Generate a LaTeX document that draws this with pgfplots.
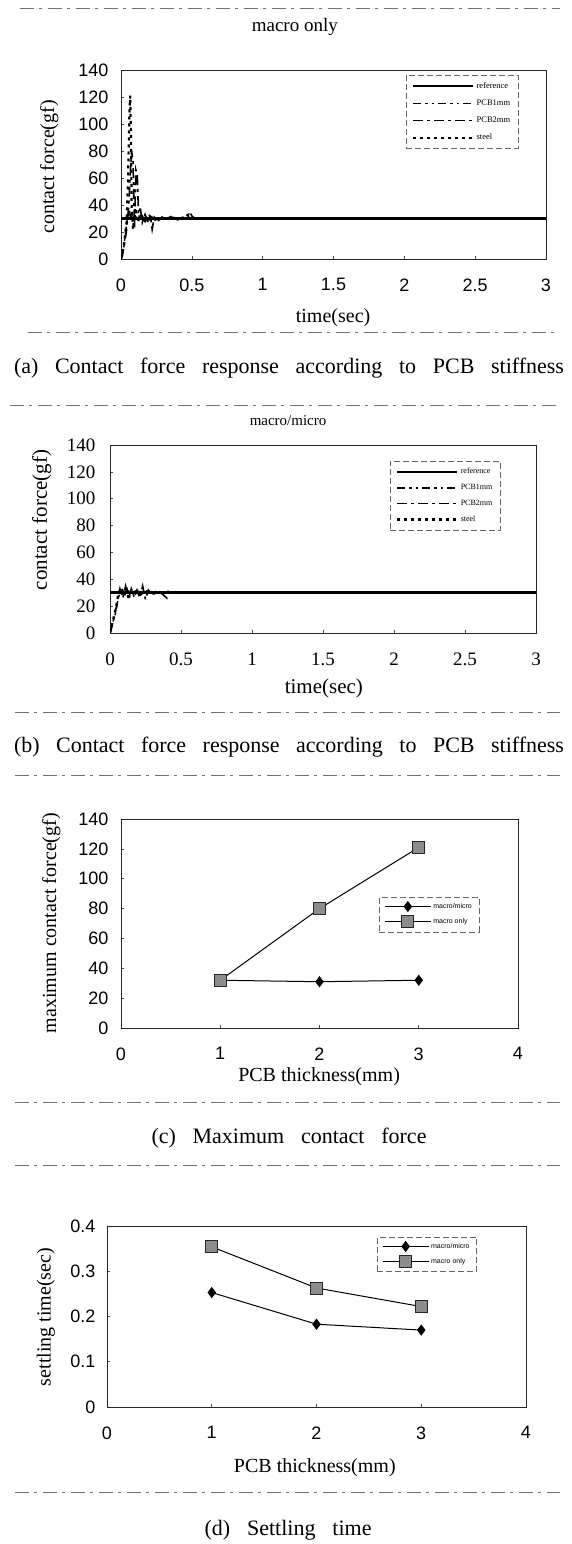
\documentclass[border=0pt]{standalone}
\usepackage{fontspec}
\setmainfont{Liberation Serif}
\newfontfamily\arial{Liberation Sans}
\usepackage{pgfplots}
\pgfplotsset{compat=1.18}
\newcommand\fs[1]{\fontsize{#1}{#1}\selectfont}

\pgfplotsset{
  base/.style={
    scale only axis,
    axis line style={black!85, line width=0.8pt},
    tick style={black!70, line width=0.6pt},
    tick align=inside, major tick length=3pt, tick pos=left,
    /pgf/number format/assume math mode=true,
    xticklabel style={yshift=-16pt},
    legend cell align=left,
  },
  linelegend/.style={
    legend image code/.code={\draw[##1] (0pt,0pt) -- (60pt,0pt);},
  },
  marklegend/.style={
    legend image code/.code={\draw[mark repeat=2,mark phase=2,##1] plot coordinates {(0pt,0pt) (23pt,0pt) (46pt,0pt)};},
  },
  refs/.style={black, solid, line width=2.6pt},
  pcba/.style={black, line width=1.4pt, dash pattern=on 8pt off 4pt on 2.5pt off 4pt on 2.5pt off 4pt},
  pcbb/.style={black, line width=1.6pt, dash pattern=on 10pt off 4pt on 3pt off 4pt},
  steel/.style={black, line width=2.2pt, dash pattern=on 3pt off 4pt},
  mm/.style={black, solid, line width=1pt, mark=diamond*, mark size=4.8pt, mark options={solid, fill=black}},
  mo/.style={black, solid, line width=1pt, mark=square*, mark size=6pt, mark options={solid, fill=black!45, draw=black!85}},
}

\begin{document}
\begin{tikzpicture}
\path[use as bounding box] (0,0) rectangle (571pt,-1544pt);

% decorative separators
\begin{scope}[black!55, line width=0.8pt, dash pattern=on 14pt off 5pt on 3pt off 6pt]
\draw (20pt,-8pt) -- (560pt,-8pt);
\draw (28pt,-332pt) -- (560pt,-332pt);
\draw (10pt,-405pt) -- (560pt,-405pt);
\draw (15pt,-712pt) -- (560pt,-712pt);
\draw (15pt,-775pt) -- (560pt,-775pt);
\draw (15pt,-1102pt) -- (560pt,-1102pt);
\draw (15pt,-1165pt) -- (560pt,-1165pt);
\draw (15pt,-1492pt) -- (560pt,-1492pt);
\end{scope}

% captions
\node at (289pt,-368pt) {\fs{22}\makebox[550pt][s]{(a) Contact force response according to PCB stiffness}};
\node at (289pt,-747pt) {\fs{22}\makebox[550pt][s]{(b) Contact force response according to PCB stiffness}};
\node at (289pt,-1138pt) {\fs{22}\makebox[275pt][s]{(c) Maximum contact force}};
\node at (288pt,-1530pt) {\fs{22}\makebox[167pt][s]{(d) Settling time}};

% ---------- (a) ----------
\begin{axis}[base, linelegend,
  at={(121pt,-259pt)}, anchor=south west, width=425pt, height=189pt,
  xmin=0, xmax=3, ymin=0, ymax=140,
  xtick={0,0.5,1,1.5,2,2.5,3}, xticklabels={0,0.5,1,1.5,2,2.5,3},
  ytick={0,20,...,140},
  tick label style={font=\arial\fs{18}},
  yticklabel style={xshift=-9pt},
  title={macro only}, title style={font=\fs{19}, at={(axis description cs:0.409,1.196)}, anchor=center},
  xlabel={time(sec)}, xlabel style={font=\fs{20}, at={(axis description cs:0.499,-0.312)}, anchor=center},
  ylabel={contact force(gf)}, ylabel style={font=\fs{20}, at={(axis description cs:-0.169,0.487)}, anchor=center},
  legend style={draw=black!60, dash pattern=on 6pt off 3pt, line width=0.6pt, fill=white,
    font=\fs{8.5}, at={(axis description cs:0.67,0.974)}, anchor=north west,
    inner xsep=6pt, inner ysep=5pt, row sep=6pt},
]
\addplot[refs] coordinates {(0,30) (3,30)};
\addplot[pcba] coordinates {(0,0)(0.01,2)(0.02,9)(0.03,18)(0.04,27)(0.05,31)(0.06,36)(0.07,29)(0.08,33)(0.09,28)(0.1,32)(0.12,29)(0.14,32)(0.16,28)(0.18,31)(0.2,29)(0.22,31)(0.25,29)(0.28,31)(0.32,30)(0.36,31)(0.4,30)(3,30)};
\addplot[pcbb] coordinates {(0,0)(0.02,8)(0.04,22)(0.055,40)(0.065,62)(0.075,80)(0.085,72)(0.095,22)(0.105,66)(0.115,62)(0.125,28)(0.135,39)(0.15,27)(0.17,33)(0.19,28)(0.21,30)(0.22,22)(0.235,31)(0.26,28)(0.29,31)(0.32,29)(0.36,32)(0.4,29)(0.44,31)(0.47,30)(0.49,34)(0.51,30)(3,30)};
\addplot[steel] coordinates {(0,0)(0.02,10)(0.04,28)(0.05,60)(0.06,110)(0.065,121)(0.07,95)(0.075,40)(0.085,22)(0.1,38)(0.12,30)(0.14,33)(0.17,28)(0.2,32)(0.24,29)(0.28,31)(0.32,29.5)(0.36,31.5)(0.4,29)(0.44,31)(0.48,33)(0.52,30)(3,30)};
\legend{reference, PCB1mm, PCB2mm, steel}
\end{axis}

% ---------- (b) ----------
\begin{axis}[base, linelegend,
  at={(110pt,-633pt)}, anchor=south west, width=426pt, height=188pt,
  xmin=0, xmax=3, ymin=0, ymax=140,
  xtick={0,0.5,1,1.5,2,2.5,3}, xticklabels={0,0.5,1,1.5,2,2.5,3},
  ytick={0,20,...,140},
  tick label style={font=\fs{19}},
  yticklabel style={xshift=-11pt},
  title={macro/micro}, title style={font=\fs{15}, at={(axis description cs:0.418,1.096)}, anchor=center},
  xlabel={time(sec)}, xlabel style={font=\fs{21}, at={(axis description cs:0.502,-0.293)}, anchor=center},
  ylabel={contact force(gf)}, ylabel style={font=\fs{21}, at={(axis description cs:-0.16,0.601)}, anchor=center},
  legend style={draw=black!60, dash pattern=on 6pt off 3pt, line width=0.6pt, fill=white,
    font=\fs{8}, at={(axis description cs:0.657,0.915)}, anchor=north west,
    inner xsep=6pt, inner ysep=5pt, row sep=5pt},
]
\addplot[refs] coordinates {(0,30) (3,30)};
\addplot[pcba] coordinates {(0,0)(0.01,3)(0.02,8)(0.04,15)(0.06,27)(0.08,31)(0.1,28)(0.12,33)(0.14,27)(0.16,32)(0.18,29)(0.2,31)(0.22,28)(0.25,32)(0.28,29)(0.32,31)(0.36,29)(0.4,30.5)(0.42,30)(3,30)};
\addplot[pcbb] coordinates {(0,0)(0.015,6)(0.03,12)(0.05,22)(0.07,33)(0.09,26)(0.11,35)(0.13,25)(0.15,33)(0.17,27)(0.19,32)(0.21,26)(0.23,35)(0.25,25)(0.27,32)(0.3,28)(0.33,31)(0.37,29)(0.4,26)(0.41,31)(0.43,30)(3,30)};
\addplot[steel] coordinates {(0,0)(0.02,9)(0.04,18)(0.06,30)(0.08,34)(0.1,28)(0.12,32)(0.15,29)(0.18,31)(0.22,29)(0.26,31)(0.3,29.5)(0.35,30.5)(0.4,30)(3,30)};
\legend{reference, PCB1mm, PCB2mm, steel}
\end{axis}

% ---------- (c) ----------
\begin{axis}[base, marklegend,
  at={(121pt,-1028pt)}, anchor=south west, width=397pt, height=209pt,
  xmin=0, xmax=4, ymin=0, ymax=140,
  xtick={0,1,2,3,4}, ytick={0,20,...,140},
  tick label style={font=\arial\fs{18}},
  yticklabel style={xshift=-9pt},
  xlabel={PCB thickness(mm)}, xlabel style={font=\fs{20}, at={(axis description cs:0.499,-0.234)}, anchor=center},
  ylabel={maximum contact force(gf)}, ylabel style={font=\fs{20}, at={(axis description cs:-0.176,0.502)}, anchor=center},
  legend style={draw=black!60, dash pattern=on 6pt off 3pt, line width=0.6pt, fill=white,
    font=\arial\fs{7}, at={(axis description cs:0.65,0.627)}, anchor=north west,
    inner xsep=5pt, inner ysep=4pt, row sep=4pt},
]
\addplot[mm] coordinates {(1,32) (2,31) (3,32)};
\addplot[mo] coordinates {(1,32) (2,80) (3,121)};
\legend{macro/micro, macro only}
\end{axis}

% ---------- (d) ----------
\begin{axis}[base, marklegend,
  at={(107pt,-1407pt)}, anchor=south west, width=419pt, height=181pt,
  xmin=0, xmax=4, ymin=0, ymax=0.4,
  xtick={0,1,2,3,4}, ytick={0,0.1,0.2,0.3,0.4}, yticklabels={0,0.1,0.2,0.3,0.4},
  tick label style={font=\arial\fs{18}},
  yticklabel style={xshift=-8pt},
  xlabel={PCB thickness(mm)}, xlabel style={font=\fs{20}, at={(axis description cs:0.496,-0.337)}, anchor=center},
  ylabel={settling time(sec)}, ylabel style={font=\fs{20}, at={(axis description cs:-0.146,0.497)}, anchor=center},
  legend style={draw=black!60, dash pattern=on 6pt off 3pt, line width=0.6pt, fill=white,
    font=\arial\fs{7}, at={(axis description cs:0.644,0.94)}, anchor=north west,
    inner xsep=5pt, inner ysep=4pt, row sep=4pt},
]
\addplot[mm] coordinates {(1,0.253) (2,0.183) (3,0.17)};
\addplot[mo] coordinates {(1,0.354) (2,0.263) (3,0.222)};
\legend{macro/micro, macro only}
\end{axis}
\end{tikzpicture}
\end{document}
